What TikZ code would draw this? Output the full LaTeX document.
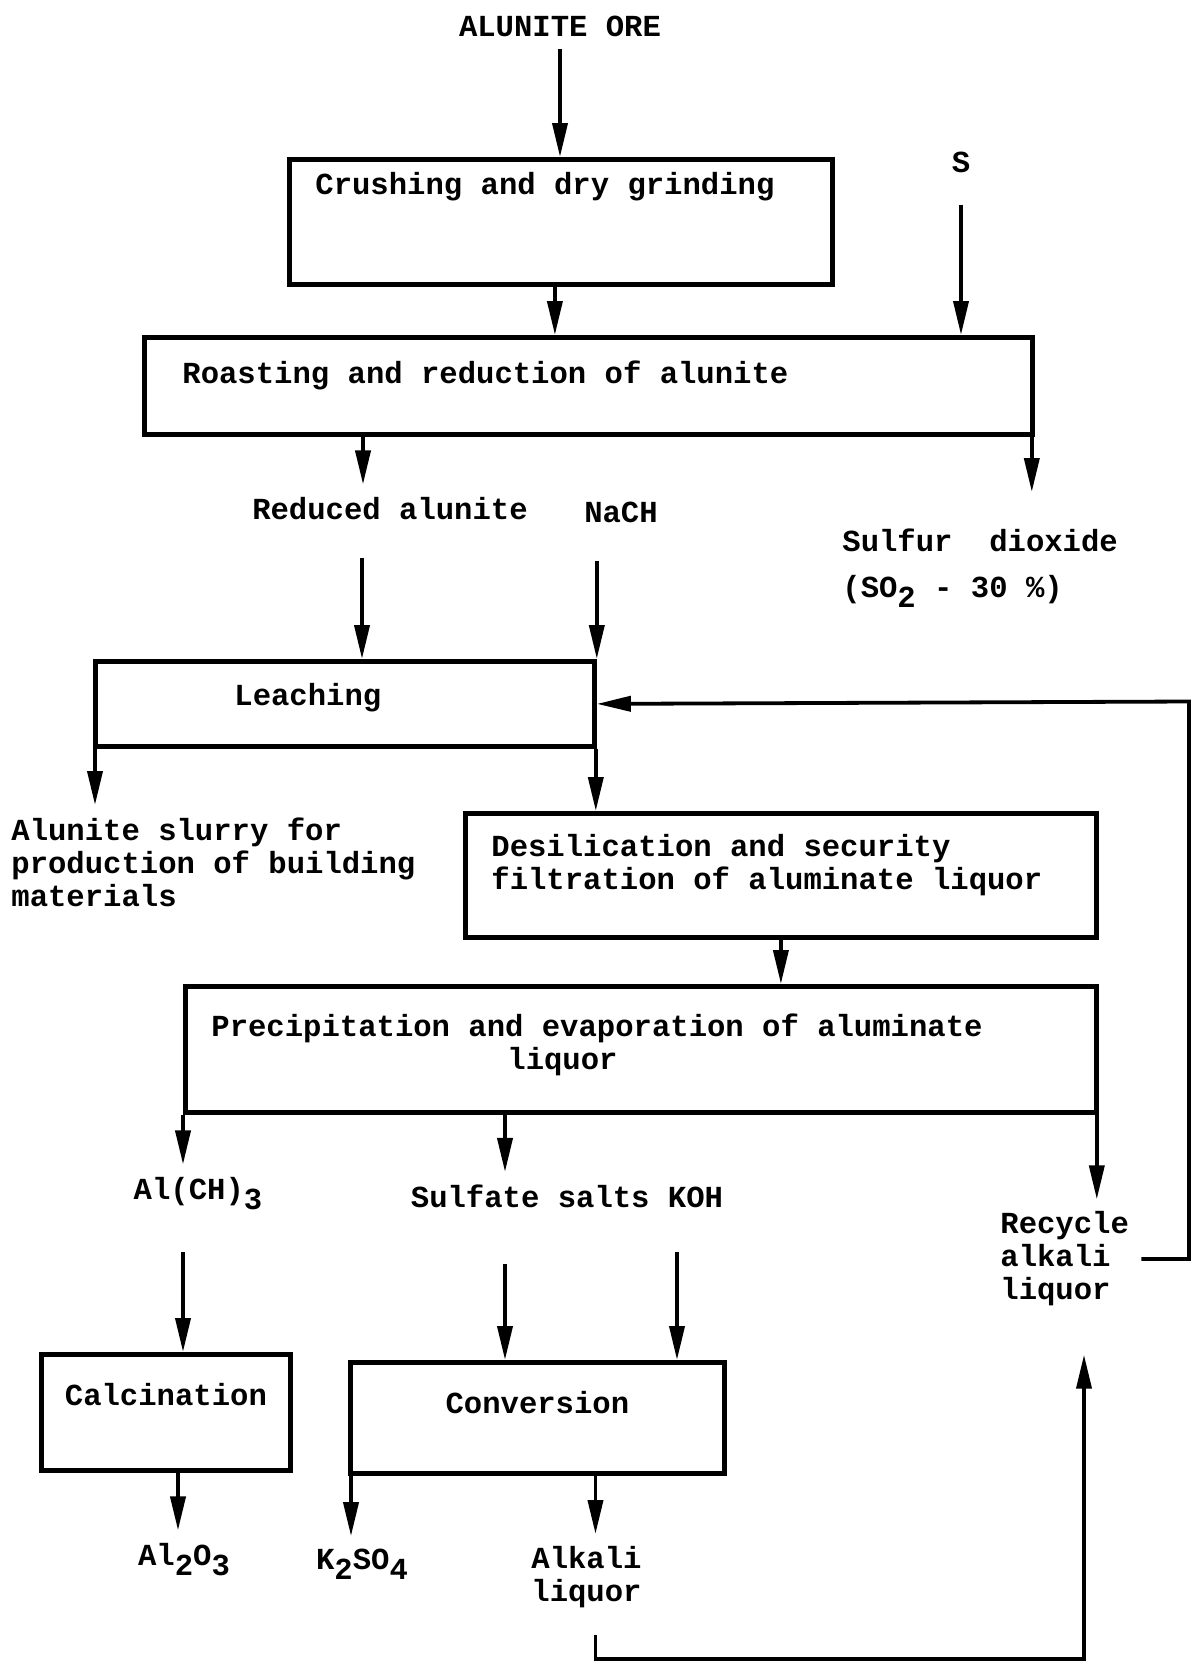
\documentclass[tikz,border=0pt]{standalone}
\usepackage{fontspec}
\setmainfont{Liberation Mono}
\usetikzlibrary{arrows.meta}
\newcommand{\lowr}[1]{\raisebox{-5pt}{#1}}

\begin{document}
\begin{tikzpicture}[
  x=0.5pt, y=-0.5pt,
  font=\bfseries\fontsize{15.3}{16.5}\selectfont,
  box/.style={draw, line width=2.4pt, anchor=north west, align=flush left, inner ysep=0pt},
  lbl/.style={inner sep=6pt, align=left},
  arr/.style={line width=1.9pt, -{Triangle[length=17pt, width=7.5pt]}}
]
\useasboundingbox (0,0) rectangle (1194,1666);

% process boxes
\node[box, text width=245.5pt, inner xsep=13pt, text height=17.5pt, text depth=45pt] (crush) at (287,157) {Crushing and dry grinding};
\node[box, text width=406pt, inner xsep=19pt, text height=23pt, text depth=25.5pt] (roast) at (142,335) {Roasting and reduction of alunite};
\node[box, text width=110.5pt, inner xsep=69.5pt, text height=22pt, text depth=20.5pt] (leach) at (93,659) {Leaching};
\node[box, text width=289.5pt, inner xsep=13pt, text height=21.5pt, text depth=40.5pt] (desil) at (463,811) {Desilication and security\\filtration of aluminate liquor};
\node[box, text width=429.5pt, inner xsep=13pt, text height=25pt, text depth=38pt] (precip) at (183,984) {Precipitation and evaporation of aluminate\\\hspace*{148pt}liquor};
\node[box, align=flush center, text width=105.5pt, inner xsep=9.5pt, text height=25.5pt, text depth=32.5pt] (calc) at (39,1352) {Calcination};
\node[box, align=flush center, text width=167pt, inner xsep=10pt, text height=25.5pt, text depth=30pt] (conv) at (348,1360) {Conversion};

% materials
\node[lbl, anchor=base] (ore) at (560,36) {ALUNITE ORE};
\node[lbl, anchor=base] (s) at (961,172) {S};
\node[lbl, anchor=base] (red) at (390,519) {Reduced alunite};
\node[lbl, anchor=base] (nach) at (621,522) {NaCH};
\node[lbl, anchor=north west] (so2) at (830,516) {Sulfur\ \ dioxide\\[6.5pt](SO\lowr{2} - 30 \%)};
\node[lbl, anchor=north west] (slurry) at (-1,805) {Alunite slurry for\\production of building\\materials};
\node[lbl, anchor=base] (alch) at (198,1199) {Al(CH)\lowr{3}};
\node[lbl, anchor=base] (sulf) at (567,1207) {Sulfate salts KOH};
\node[lbl, anchor=west] (recyc) at (988,1259) {Recycle\\alkali\\liquor};
\node[lbl, anchor=base] (al2o3) at (184,1565) {Al\lowr{2}O\lowr{3}};
\node[lbl, anchor=base] (k2so4) at (362,1569) {K\lowr{2}SO\lowr{4}};
\node[lbl, anchor=north west] (alk) at (519,1534) {Alkali\\liquor};

\coordinate (rbend) at (1189,701.5);
\coordinate (lowbend) at (1084,1659);

% flows
\draw[arr] (ore) -- (ore |- crush.north);
\draw[arr] ([xshift=-3pt]crush.south) -- ([xshift=-3pt]crush.south |- roast.north);
\draw[arr, shorten <=10pt] (s) -- (s |- roast.north);
\draw[arr] ([xshift=-13.5pt]red.north |- roast.south) -- ([xshift=-13.5pt]red.north);
\draw[arr, shorten >=12pt] ([xshift=-1.5pt]roast.south east) -- ([xshift=-1.5pt]roast.south east |- so2.north);
\draw[arr, shorten <=13pt] ([xshift=-14pt]red.south) -- ([xshift=-14pt]red.south |- leach.north);
\draw[arr, shorten <=13pt] (nach.south -| leach.north east) -- (leach.north east);
\draw[arr] (recyc.east) -| (rbend) -- (leach.east);
\draw[arr] ([xshift=1pt]leach.south west) -- ([xshift=1pt]leach.south west |- slurry.north);
\draw[arr] ([xshift=-0.5pt]leach.south east) -- ([xshift=-0.5pt]leach.south east |- desil.north);
\draw[arr] (desil.south) -- (desil.south |- precip.north);
\draw[arr] (precip.south west) -- (precip.south west |- alch.north);
\draw[arr] ([xshift=-31pt]sulf.north |- precip.south) -- ([xshift=-31pt]sulf.north);
\draw[arr] ([xshift=-1pt]precip.south east) -- ([xshift=-1pt]precip.south east |- recyc.north);
\draw[arr, shorten <=15pt] (alch.south -| precip.south west) -- (calc.north -| precip.south west);
\draw[arr, shorten <=22pt] ([xshift=-31pt]sulf.south) -- ([xshift=-31pt]sulf.south |- conv.north);
\draw[arr, shorten <=16pt] ([xshift=55pt]sulf.south) -- ([xshift=55pt]sulf.south |- conv.north);
\draw[arr] ([xshift=-3pt]al2o3.north |- calc.south) -- ([xshift=-3pt]al2o3.north);
\draw[arr] ([xshift=1.5pt]conv.south west) -- ([xshift=1.5pt]conv.south west |- k2so4.north);
\draw[arr] ([xshift=4.5pt]alk.north |- conv.south) -- ([xshift=4.5pt]alk.north);
\draw[arr, shorten <=7.5pt, shorten >=18pt] ([xshift=4.5pt]alk.south) |- (lowbend) -- (lowbend |- recyc.south);
\end{tikzpicture}
\end{document}
